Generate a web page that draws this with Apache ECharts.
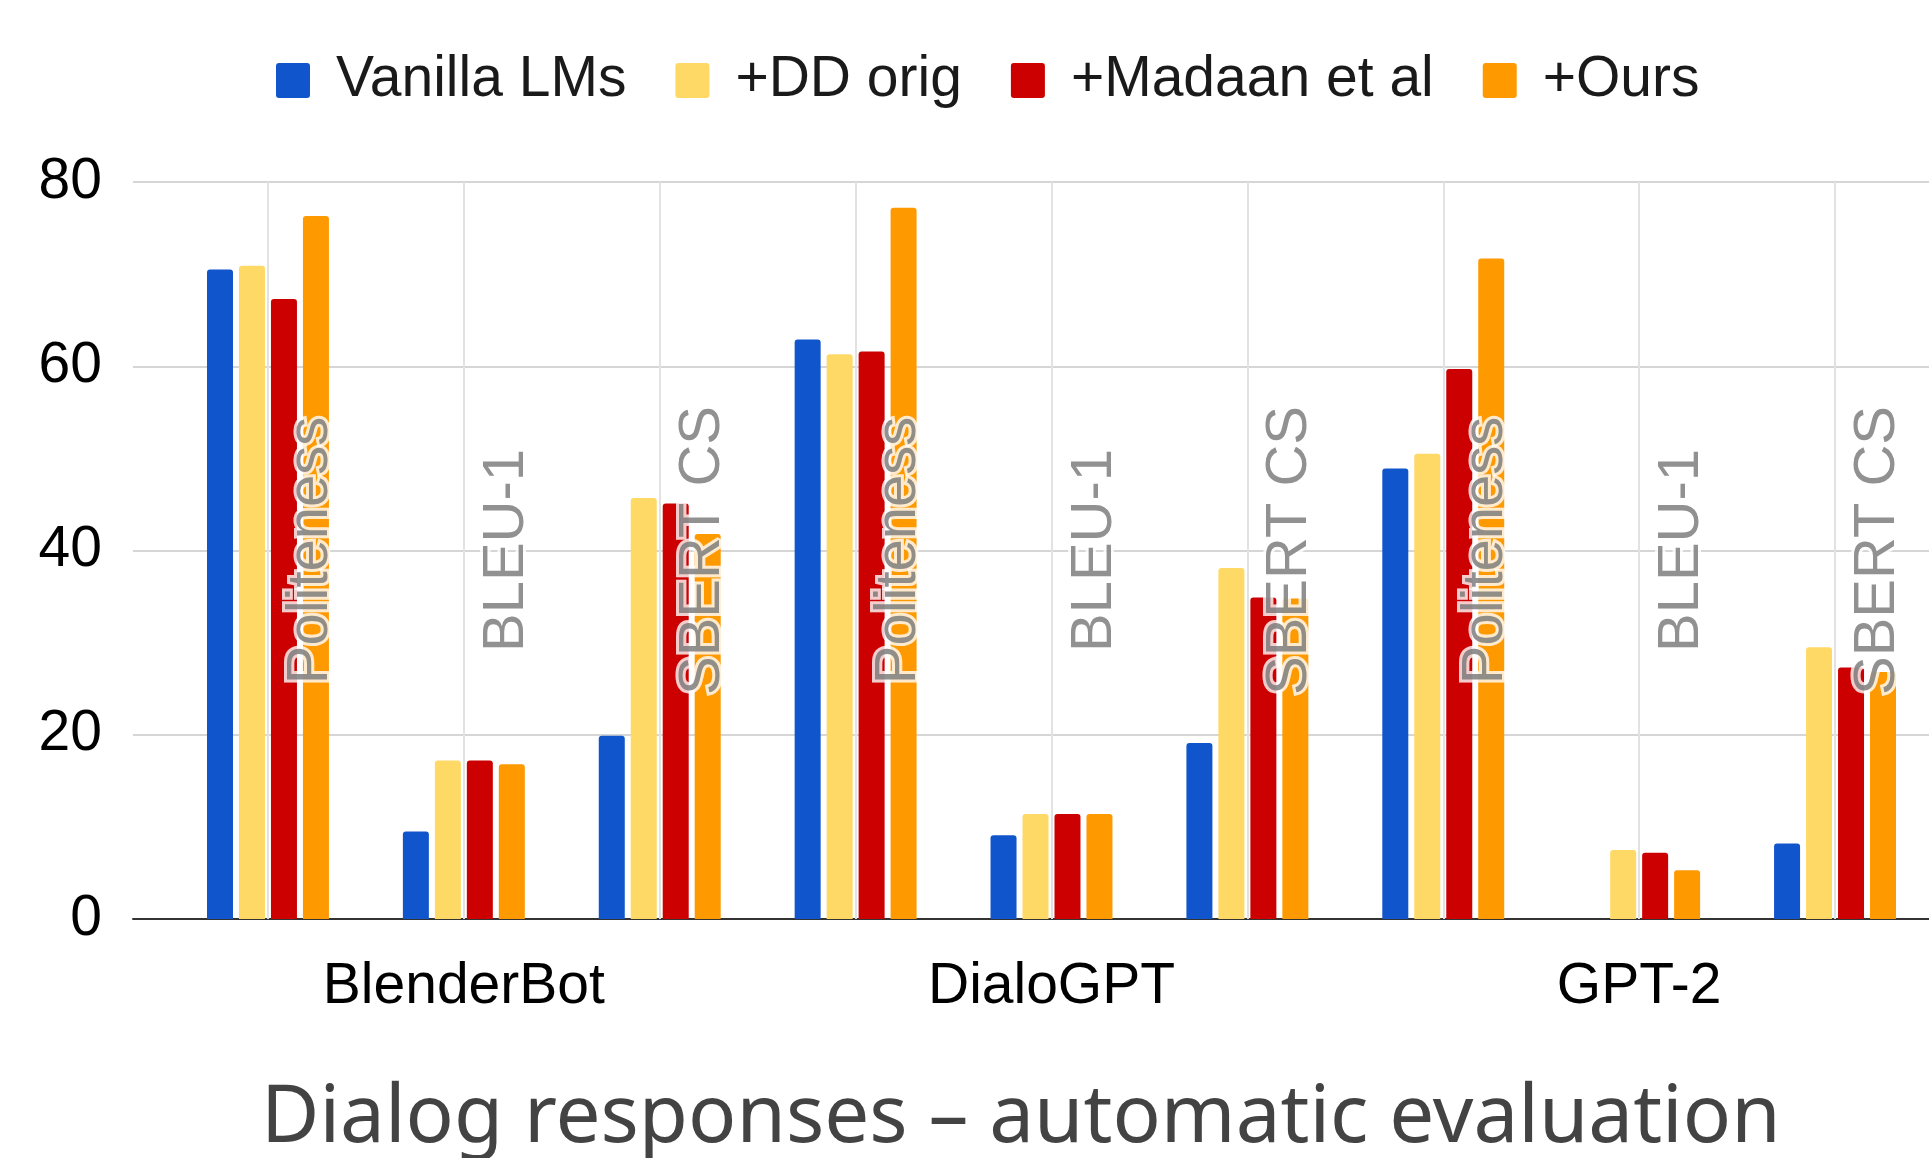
<!DOCTYPE html>
<html>
<head>
<meta charset="utf-8">
<script src="https://cdn.jsdelivr.net/npm/echarts@6/dist/echarts.min.js"></script>
<style>
html,body{margin:0;padding:0;background:#fff;overflow:hidden;}
#c{width:1929px;height:1158px;}
</style>
</head>
<body>
<div id="c"></div>
<script>
// ---- data ----
var models = ['BlenderBot', 'DialoGPT', 'GPT-2'];
var metrics = ['Politeness', 'BLEU-1', 'SBERT CS'];
var seriesNames = ['Vanilla LMs', '+DD orig', '+Madaan et al', '+Ours'];
// order: BlenderBot(Pol, BLEU, SBERT), DialoGPT(...), GPT-2(...)
var vanilla = [70.5, 9.5, 19.9, 62.9, 9.1, 19.1, 48.9, 0, 8.2];
var ddOrig  = [70.9, 17.2, 45.7, 61.3, 11.4, 38.1, 50.5, 7.5, 29.5];
var madaan  = [67.3, 17.2, 45.1, 61.6, 11.4, 34.9, 59.7, 7.2, 27.3];
var ours    = [76.3, 16.8, 41.8, 77.2, 11.4, 34.8, 71.7, 5.3, 26.8];
var yTicks = [0, 20, 40, 60, 80];
var metricLabelLevel = 40;

var colors = ['#1155cc', '#ffd966', '#cc0000', '#ff9900'];
var allSeries = [vanilla, ddOrig, madaan, ours];
var catIndex = vanilla.map(function (_, i) { return i; });

var chart = echarts.init(document.getElementById('c'), null, {renderer: 'canvas'});

var series = allSeries.map(function (arr, s) {
  return {
    name: seriesNames[s],
    type: 'bar',
    barWidth: 26,
    barGap: '23%',
    itemStyle: {color: colors[s], borderRadius: [3, 3, 0, 0]},
    data: arr.map(function (v, i) { return [i, v]; })
  };
});

series.push({
  name: 'metricLabels',
  type: 'scatter',
  symbolSize: 1,
  itemStyle: {color: 'rgba(0,0,0,0)'},
  silent: true,
  z: 5,
  label: {
    show: true,
    position: 'inside',
    rotate: 90,
    offset: [0, 43],
    formatter: function (p) { return metrics[p.dataIndex % 3]; },
    fontFamily: 'Liberation Sans, Arial, sans-serif',
    fontSize: 58,
    color: '#767676',
    textBorderColor: '#ffffff',
    textBorderWidth: 6
  },
  markLine: {
    silent: true,
    symbol: 'none',
    z: 1,
    label: {show: false},
    lineStyle: {color: '#e2e2e2', width: 2, type: 'solid'},
    data: catIndex.map(function (i) { return {xAxis: i}; })
  },
  data: catIndex.map(function (i) { return [i, metricLabelLevel]; })
});

chart.setOption({
  animation: false,
  textStyle: {fontFamily: 'Liberation Sans, Arial, sans-serif'},
  title: {
    text: 'Dialog responses \u2013 automatic evaluation',
    left: 261,
    top: 1079,
    padding: 0,
    textStyle: {fontFamily: 'Noto Sans', fontSize: 80, fontWeight: 'normal', color: '#434343'}
  },
  legend: {
    data: seriesNames,
    left: 276,
    top: 52,
    padding: 0,
    icon: 'path://M3,0H31Q34,0 34,3V32Q34,35 31,35H3Q0,35 0,32V3Q0,0 3,0Z',
    itemWidth: 34,
    itemHeight: 35,
    itemGap: 49,
    textStyle: {fontSize: 57, color: '#1a1a1a', padding: [0, 0, 0, 21]}
  },
  grid: {left: 133, top: 182, width: 1837, bottom: 239, containLabel: false, outerBoundsMode: 'none'},
  xAxis: {
    type: 'value',
    min: -0.689,
    max: 8.689,
    splitLine: {show: false},
    axisTick: {show: false},
    axisLine: {show: true, onZero: false, lineStyle: {color: '#333333', width: 2}},
    axisLabel: {
      show: true,
      customValues: [1, 4, 7],
      formatter: function (v) { return models[Math.round((v - 1) / 3)]; },
      fontSize: 57,
      color: '#000000',
      margin: 40
    }
  },
  yAxis: {
    type: 'value',
    min: yTicks[0],
    max: yTicks[yTicks.length - 1],
    interval: 20,
    axisLine: {show: false},
    axisTick: {show: false},
    splitLine: {lineStyle: {color: '#d6d6d6', width: 2}},
    axisLabel: {fontSize: 57, color: '#000000', margin: 31}
  },
  series: series
});
</script>
</body>
</html>
